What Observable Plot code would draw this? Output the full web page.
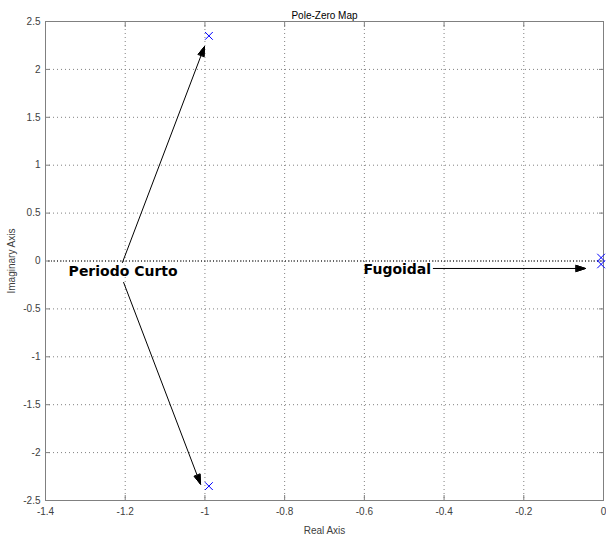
<!DOCTYPE html>
<html>
<head>
<meta charset="utf-8">
<script src="https://cdn.jsdelivr.net/npm/d3@7"></script>
<script src="https://cdn.jsdelivr.net/npm/@observablehq/plot@0.6"></script>
<style>
  html, body { margin: 0; padding: 0; background: #fff; }
  #chart svg { display: block; }
</style>
</head>
<body>
<div id="chart"></div>
<script>
// Poles (x marks)
const poleRe = [-0.99, -0.99, -0.006, -0.006];
const poleIm = [2.35, -2.35, 0.035, -0.035];

// Annotation arrows
const arrowX1 = [-1.207, -1.204, -0.427];
const arrowY1 = [-0.016, -0.224, -0.078];
const arrowX2 = [-1.001, -1.011, -0.045];
const arrowY2 = [2.24, -2.33, -0.078];

// Annotation texts
const annotText = ["Periodo Curto", "Fugoidal"];
const annotX = [-1.342, -0.602];
const annotY = [-0.11, -0.09];

// Ticks
const xTicks = [-1.4, -1.2, -1, -0.8, -0.6, -0.4, -0.2, 0];
const yTicks = [-2.5, -2, -1.5, -1, -0.5, 0, 0.5, 1, 1.5, 2, 2.5];

const title = "Pole-Zero Map";
const xLabel = "Real Axis";
const yLabel = "Imaginary Axis";

const poles = poleRe.map((re, i) => ({re, im: poleIm[i]}));
const arrows = arrowX1.map((x1, i) => ({x1, y1: arrowY1[i], x2: arrowX2[i], y2: arrowY2[i]}));
const annots = annotText.map((t, i) => ({t, x: annotX[i], y: annotY[i]}));

const fmt = d => String(d);
const tickColor = "#808080";
const labelColor = "#404040";

const svg = Plot.plot({
  width: 606,
  height: 537,
  marginLeft: 45,
  marginRight: 3,
  marginTop: 21,
  marginBottom: 37,
  style: {fontFamily: "'Liberation Sans', Arial, sans-serif", fontSize: "10px", background: "#fff"},
  x: {domain: [-1.4, 0]},
  y: {domain: [-2.5, 2.5]},
  marks: [
    Plot.gridX(xTicks, {stroke: "#808080", strokeOpacity: 1, strokeDasharray: "1,3"}),
    Plot.gridY(yTicks, {stroke: "#808080", strokeOpacity: 1, strokeDasharray: "1,3"}),
    Plot.ruleY([0], {stroke: "#000", strokeDasharray: "1,2", strokeWidth: 1}),
    Plot.ruleX([0], {stroke: "#000", strokeDasharray: "1,2", strokeWidth: 1}),
    Plot.frame({stroke: tickColor}),
    // inward ticks
    Plot.axisX(xTicks, {anchor: "bottom", tickSize: -5, stroke: tickColor, tickFormat: () => "", label: null}),
    Plot.axisX(xTicks, {anchor: "top", tickSize: -5, stroke: tickColor, tickFormat: () => "", label: null}),
    Plot.axisY(yTicks, {anchor: "left", tickSize: -5, stroke: tickColor, tickFormat: () => "", label: null}),
    Plot.axisY(yTicks, {anchor: "right", tickSize: -5, stroke: tickColor, tickFormat: () => "", label: null}),
    // tick labels + axis labels
    Plot.axisX(xTicks, {anchor: "bottom", tickSize: 0, tickPadding: 7, tickFormat: fmt, fill: labelColor,
      label: xLabel, labelAnchor: "center", labelOffset: 33, labelArrow: "none"}),
    Plot.axisY(yTicks, {anchor: "left", tickSize: 0, tickPadding: 5, tickFormat: fmt, fill: labelColor,
      label: yLabel, labelAnchor: "center", labelOffset: 38, labelArrow: "none"}),
    Plot.text([title], {frameAnchor: "top", dy: -10, text: d => d, fill: "#000", fontSize: 10}),
    // poles
    Plot.dot(poles, {x: "re", y: "im", symbol: "times", r: 3.6, stroke: "#0000ff", strokeWidth: 1}),
    // arrows
    Plot.arrow(arrows, {x1: "x1", y1: "y1", x2: "x2", y2: "y2", stroke: "#000", strokeWidth: 1,
      headLength: 15, headAngle: 36}),
    Plot.text(annots, {x: "x", y: "y", text: "t", textAnchor: "start", fontFamily: "'DejaVu Sans', sans-serif",
      fontWeight: "bold", fontSize: 14, fill: "#000"})
  ]
});

// fill arrow heads
d3.select(svg).selectAll("g[aria-label='arrow'] path").each(function() {
  const d = this.getAttribute("d") || "";
  const nums = (d.match(/-?\d*\.?\d+(?:e[-+]?\d+)?/gi) || []).map(Number);
  if (nums.length >= 6) {
    const n = nums.length;
    const p = nums.slice(n - 6);
    d3.select(this.parentNode).append("path")
      .attr("d", `M${p[0]},${p[1]}L${p[2]},${p[3]}L${p[4]},${p[5]}Z`)
      .attr("fill", "#000").attr("stroke", "#000").attr("stroke-width", 1);
  }
});

document.getElementById("chart").appendChild(svg);
</script>
</body>
</html>
